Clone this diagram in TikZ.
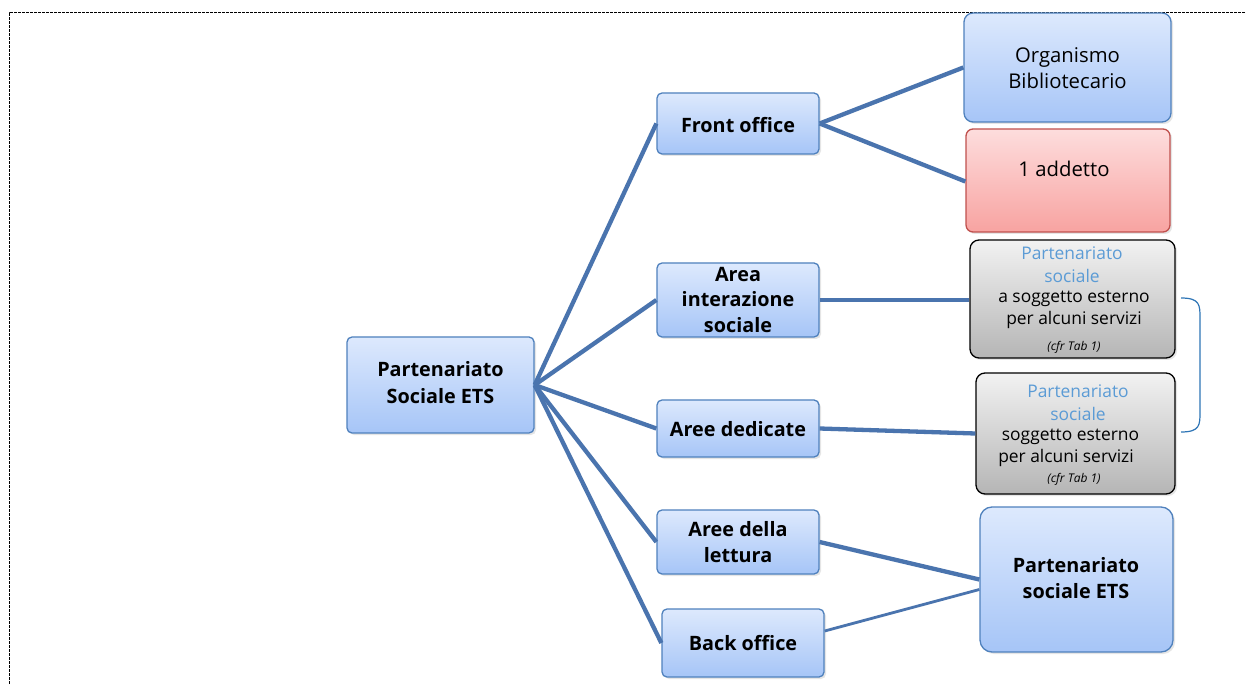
\documentclass[tikz,border=0pt]{standalone}
\usepackage{fontspec}
\setmainfont{Open Sans}
\usetikzlibrary{shadows}
\definecolor{lnblue}{HTML}{4A74AE}
\definecolor{bxborder}{HTML}{4F81BD}
\definecolor{bxtop}{HTML}{DDE9FD}
\definecolor{bxbot}{HTML}{A6C5F7}
\definecolor{rdtop}{HTML}{FDDDDD}
\definecolor{rdbot}{HTML}{F8A3A1}
\definecolor{rdborder}{HTML}{C0504D}
\definecolor{grtop}{HTML}{F2F2F2}
\definecolor{grbot}{HTML}{B5B5B5}
\definecolor{lbtext}{HTML}{5B9BD5}
\definecolor{brace}{HTML}{2E75B6}
\tikzset{
  bx/.style={draw=bxborder, line width=1.3pt, rounded corners=5pt, top color=bxtop, bottom color=bxbot,
    drop shadow={opacity=0.2, shadow xshift=2pt, shadow yshift=-2pt}, inner sep=0pt},
  rbx/.style={draw=rdborder, line width=1.3pt, rounded corners=7pt, top color=rdtop, bottom color=rdbot,
    drop shadow={opacity=0.2, shadow xshift=2pt, shadow yshift=-2pt}, inner sep=0pt},
  gbx/.style={draw=black, line width=1.3pt, rounded corners=9pt, top color=grtop, bottom color=grbot,
    drop shadow={opacity=0.2, shadow xshift=2pt, shadow yshift=-2pt}, inner sep=0pt},
  lbl/.style={align=center, font=\fontsize{19.8}{25.5}\selectfont\bfseries, inner sep=0pt},
  rlbl/.style={align=center, font=\fontsize{20.3}{26}\selectfont, inner sep=0pt},
  bluelbl/.style={align=center, font=\fontsize{17.4}{23}\selectfont, text=lbtext, inner sep=0pt},
  blacklbl/.style={align=center, font=\fontsize{17.4}{22}\selectfont, inner sep=0pt},
  smalllbl/.style={align=center, font=\fontsize{12}{14}\selectfont\itshape, inner sep=0pt},
  conn/.style={draw=lnblue, line width=4.3pt},
  thinconn/.style={draw=lnblue, line width=2.8pt},
}
\begin{document}
\begin{tikzpicture}[x=1pt, y=-1pt]
\useasboundingbox (0,0) rectangle (1245,684);
\fill[white] (0,0) rectangle (1245,684);
% page border
\draw[black, line width=1pt, dash pattern=on 3pt off 1pt] (9,684) -- (9,13) -- (1245,13);

% boxes
\node[bx, minimum width=187pt, minimum height=96pt] (root) at (440.5,385) {};
\node[lbl, font=\fontsize{19.8}{27}\selectfont\bfseries] (rootT) at (440.5,383) {Partenariato\\Sociale ETS};

\node[bx, minimum width=162pt, minimum height=61pt] (front) at (738,123.5) {};
\node[lbl] (frontT) at (738,125) {Front office};

\node[bx, minimum width=162pt, minimum height=74pt] (area) at (738,300) {};
\node[lbl] (areaT) at (738,300) {Area\\interazione\\sociale};

\node[bx, minimum width=162pt, minimum height=57pt] (dedic) at (738,428.5) {};
\node[lbl] (dedicT) at (738,429) {Aree dedicate};

\node[bx, minimum width=162pt, minimum height=64pt] (lett) at (738,542) {};
\node[lbl] (lettT) at (738,542) {Aree della\\lettura};

\node[bx, minimum width=162pt, minimum height=68pt] (back) at (743,643) {};
\node[lbl] (backT) at (743,643) {Back office};

\node[bx, rounded corners=9pt, minimum width=207pt, minimum height=109pt] (org) at (1067.5,67.5) {};
\node[rlbl] (orgT) at (1067.5,68) {Organismo\\Bibliotecario};

\node[rbx, minimum width=204pt, minimum height=103pt] (add) at (1068,180.5) {};
\node[rlbl] (addT) at (1064,169) {1 addetto};

\node[gbx, minimum width=205pt, minimum height=118pt] (g1) at (1072.5,299) {};
\node[bluelbl] (g1a) at (1072,264.5) {Partenariato\\sociale};
\node[blacklbl] (g1b) at (1074,310) {a soggetto esterno\\per alcuni servizi};
\node[smalllbl] (g1c) at (1074,347) {(cfr Tab 1)};

\node[gbx, minimum width=199pt, minimum height=121pt] (g2) at (1075.5,433.5) {};
\node[bluelbl] (g2a) at (1078,403) {Partenariato\\sociale};
\node[blacklbl] (g2b) at (1066,447.5) {\ \ soggetto esterno\\per alcuni servizi};
\node[smalllbl] (g2c) at (1074,479) {(cfr Tab 1)};

\node[bx, rounded corners=12pt, minimum width=193pt, minimum height=145pt] (ets) at (1076.5,579.5) {};
\node[lbl] (etsT) at (1076,578) {Partenariato\\sociale ETS};

% connectors
\draw[conn] (root.east) -- (front.west);
\draw[conn] (root.east) -- (area.west);
\draw[conn] (root.east) -- (dedic.west);
\draw[conn] (root.east) -- (lett.west);
\draw[conn] (root.east) -- (back.west);
\draw[conn] (front.east) -- (org.west);
\draw[conn] (front.east) -- ([yshift=-1pt]add.west);
\draw[conn] (area.east) -- ([yshift=-1pt]g1.west);
\draw[conn] (dedic.east) -- (g2.west);
\draw[conn] (lett.east) -- (ets.west);
\draw[thinconn] ([yshift=12pt]back.east) -- ([yshift=-10pt]ets.west);

% bracket
\coordinate (bA) at (1181,298);
\coordinate (bB) at (1181,432);
\draw[brace, line width=1.2pt] (bA) .. controls (1200,298) and (1200,305) .. (1200,318) -- (1200,412) .. controls (1200,425) and (1200,432) .. (bB);
\end{tikzpicture}
\end{document}
